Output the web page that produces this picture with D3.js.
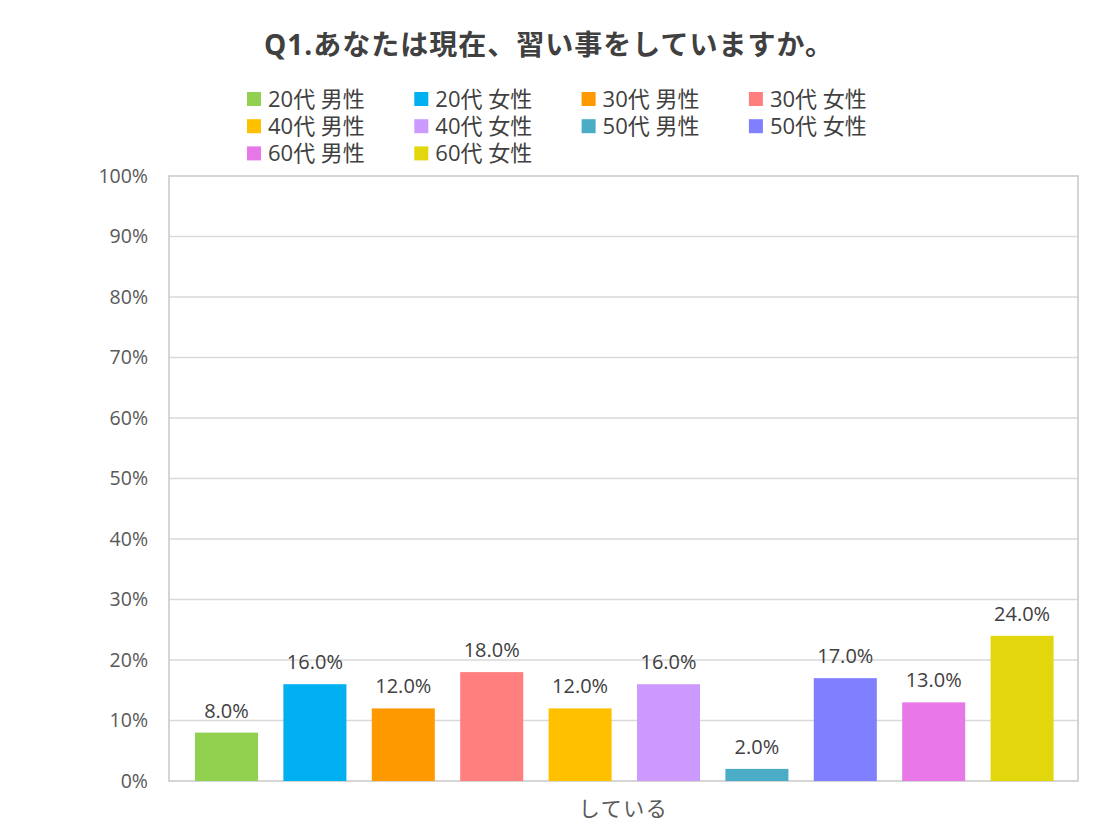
<!DOCTYPE html>
<html><head><meta charset="utf-8">
<script src="https://cdn.jsdelivr.net/npm/d3@7"></script>
<style>body{margin:0;background:#fff;}svg{display:block;font-family:"Open Sans","Noto Sans CJK JP",sans-serif;}</style>
</head><body>
<script>
const title = "Q1.あなたは現在、習い事をしていますか。";
const category = "している";
const seriesNames = ["20代 男性","20代 女性","30代 男性","30代 女性","40代 男性","40代 女性","50代 男性","50代 女性","60代 男性","60代 女性"];
const values = [8.0,16.0,12.0,18.0,12.0,16.0,2.0,17.0,13.0,24.0];
const colors = ["#92d050","#00b0f0","#ff9900","#ff7f7f","#ffc000","#cc99ff","#4bacc6","#7f7fff","#e878e8","#e2d70c"];
const yTicks = [0,10,20,30,40,50,60,70,80,90,100];

const W=1106,H=835;
const FONT="'Open Sans','Noto Sans CJK JP',sans-serif";
const svg=d3.select("body").append("svg").attr("width",W).attr("height",H);
const pl=169,pr=1078,pt=176,pb=781;
const y=d3.scaleLinear().domain([0,100]).range([pb,pt]);
const x=d3.scaleBand().domain(seriesNames).range([182.3,1066.3]).paddingInner(0.287).paddingOuter(0.1435);

// gridlines
svg.append("g").selectAll("line").data(yTicks.slice(1,-1)).join("line")
  .attr("x1",pl).attr("x2",pr).attr("y1",d=>y(d)).attr("y2",d=>y(d))
  .attr("stroke","#d9d9d9").attr("stroke-width",1.5);
// plot border
svg.append("rect").attr("x",pl).attr("y",pt).attr("width",pr-pl).attr("height",pb-pt)
  .attr("fill","none").attr("stroke","#c8c8c8").attr("stroke-width",1.5);

// y axis labels
const yAxis=d3.axisLeft(y).tickValues(yTicks).tickFormat(d=>d+"%").tickSize(0).tickPadding(21);
const ga=svg.append("g").attr("transform",`translate(${pl},0)`).call(yAxis);
ga.select(".domain").remove();
ga.selectAll("text").attr("font-size",19.5).attr("fill","#595959").attr("font-family",FONT);

// bars
svg.append("g").selectAll("rect").data(values).join("rect")
  .attr("x",(d,i)=>x(seriesNames[i])).attr("width",x.bandwidth())
  .attr("y",d=>y(d)).attr("height",d=>y(0)-y(d)).attr("fill",(d,i)=>colors[i]);
// data labels
svg.append("g").selectAll("text").data(values).join("text")
  .attr("x",(d,i)=>x(seriesNames[i])+x.bandwidth()/2).attr("y",d=>y(d)-15)
  .attr("text-anchor","middle").attr("font-size",20).attr("fill","#404040")
  .text(d=>d.toFixed(1)+"%");

// category label
svg.append("text").attr("x",(pl+pr)/2).attr("y",816).attr("text-anchor","middle")
  .attr("font-size",21).attr("letter-spacing",1.5).attr("fill","#595959").text(category);

// title
svg.append("text").attr("x",549).attr("y",55).attr("text-anchor","middle")
  .attr("font-size",28).attr("letter-spacing",1).attr("font-weight","bold").attr("fill","#404040").text(title);

// legend
const lg=svg.append("g");
seriesNames.forEach((s,i)=>{
  const col=i%4,row=Math.floor(i/4);
  const lx=247+col*167.3, ly=99+row*27.2;
  lg.append("rect").attr("x",lx).attr("y",ly-7).attr("width",14).attr("height",14).attr("fill",colors[i]);
  lg.append("text").attr("x",lx+21).attr("y",ly+8).attr("font-size",22).attr("fill","#404040").text(s);
});
</script>
</body></html>
